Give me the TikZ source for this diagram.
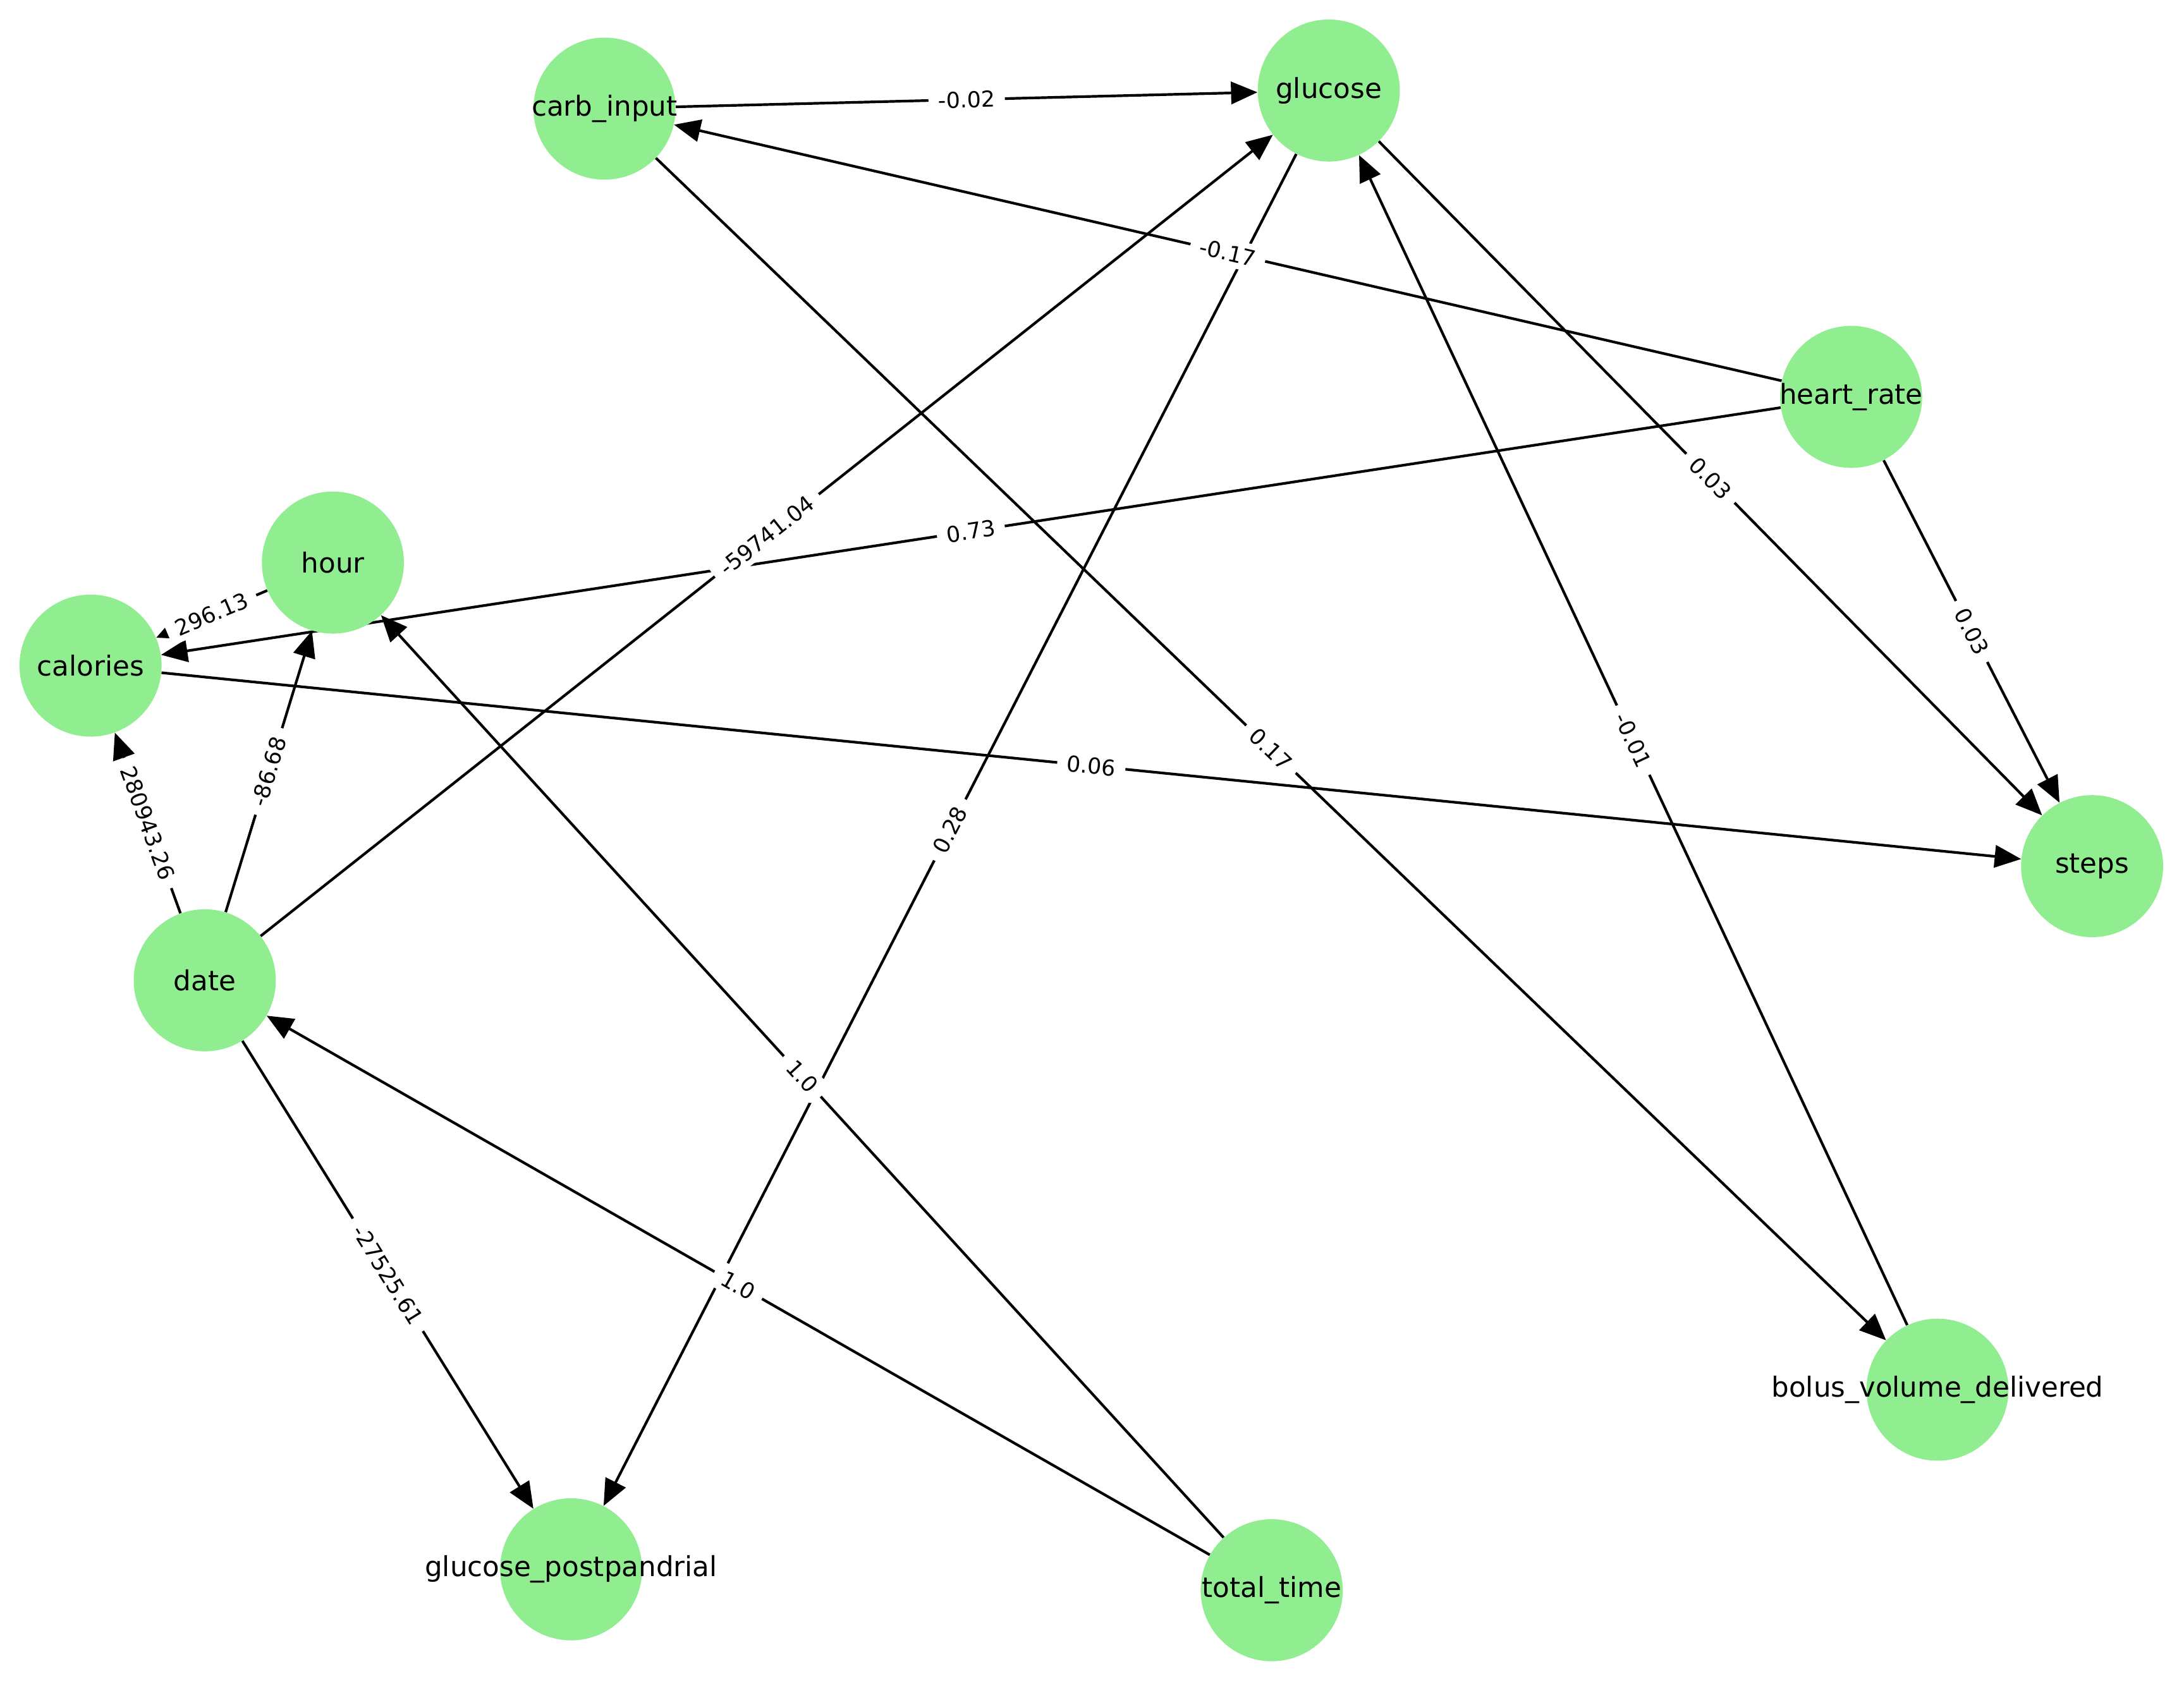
\documentclass[tikz,border=0pt]{standalone}
\usepackage{fontspec}
\setmainfont{DejaVu Sans}
\usetikzlibrary{arrows.meta}
\definecolor{ngreen}{HTML}{90EE90}
\pgfdeclarelayer{bgl}
\pgfdeclarelayer{edges}
\pgfdeclarelayer{labels}
\pgfsetlayers{bgl,edges,main,labels}
\tikzset{
  nd/.style={circle,fill=ngreen,minimum size=102pt,inner sep=0pt},
  nt/.style={font=\fontsize{19.8}{24}\selectfont,inner sep=0pt},
  ed/.style={line width=1.9pt,-{Triangle[length=19pt,width=16pt]}},
  edsmall/.style={line width=1.9pt,-{Triangle[length=11pt,width=10pt]}},
  el/.style={font=\fontsize{15.8}{19}\selectfont,fill=white,inner xsep=7pt,inner ysep=4pt,rounded corners=5pt,sloped}
}
\begin{document}
\begin{tikzpicture}[x=1pt,y=-1pt]
\useasboundingbox (0,0) rectangle (1568,1207);
\begin{pgfonlayer}{bgl}
\fill[white] (0,0) rectangle (1568,1207);
\end{pgfonlayer}
% nodes
\node[nd] (carb) at (434,78) {};
\node[nd] (glucose) at (954,65) {};
\node[nd] (heart) at (1329,285) {};
\node[nd] (hour) at (239,404) {};
\node[nd] (calories) at (65,478) {};
\node[nd] (steps) at (1502,622) {};
\node[nd] (date) at (147,704) {};
\node[nd] (bolus) at (1391,998) {};
\node[nd] (gp) at (410,1127) {};
\node[nd] (total) at (913,1142) {};
% edges
\begin{pgfonlayer}{edges}
\draw[ed] (carb) -- (glucose);
\draw[ed] (heart) -- (carb);
\draw[ed] (heart) -- (calories);
\draw[ed] (heart) -- (steps);
\draw[ed] (glucose) -- (steps);
\draw[ed] (glucose) -- (gp);
\draw[ed] (carb) -- (bolus);
\draw[ed] (bolus) -- (glucose);
\draw[ed] (date) -- (glucose);
\draw[edsmall] (hour) -- (calories);
\draw[ed] (date) -- (hour);
\draw[ed] (date) -- (calories);
\draw[ed] (date) -- (gp);
\draw[ed] (calories) -- (steps);
\draw[ed] (total) -- (hour);
\draw[ed] (total) -- (date);
\end{pgfonlayer}
% labels
\begin{pgfonlayer}{labels}
\path (carb) -- (glucose) node[el,midway] {-0.02};
\path (heart) -- (carb) node[el,midway] {-0.17};
\path (heart) -- (calories) node[el,midway] {0.73};
\path (heart) -- (steps) node[el,midway] {0.03};
\path (glucose) -- (steps) node[el,midway] {0.03};
\path (glucose) -- (gp) node[el,midway] {0.28};
\path (carb) -- (bolus) node[el,midway] {0.17};
\path (bolus) -- (glucose) node[el,midway] {-0.01};
\path (date) -- (glucose) node[el,midway] {-59741.04};
\path (hour) -- (calories) node[el,midway] {296.13};
\path (date) -- (hour) node[el,midway] {-86.68};
\path (date) -- (calories) node[el,midway] {280943.26};
\path (date) -- (gp) node[el,midway] {-27525.61};
\path (calories) -- (steps) node[el,midway] {0.06};
\path (total) -- (hour) node[el,midway] {1.0};
\path (total) -- (date) node[el,midway] {1.0};
\node[nt] at (carb) {carb\_input};
\node[nt] at (glucose) {glucose};
\node[nt] at (heart) {heart\_rate};
\node[nt] at (hour) {hour};
\node[nt] at (calories) {calories};
\node[nt] at (steps) {steps};
\node[nt] at (date) {date};
\node[nt] at (bolus) {bolus\_volume\_delivered};
\node[nt] at (gp) {glucose\_postpandrial};
\node[nt] at (total) {total\_time};
\end{pgfonlayer}
\end{tikzpicture}
\end{document}
